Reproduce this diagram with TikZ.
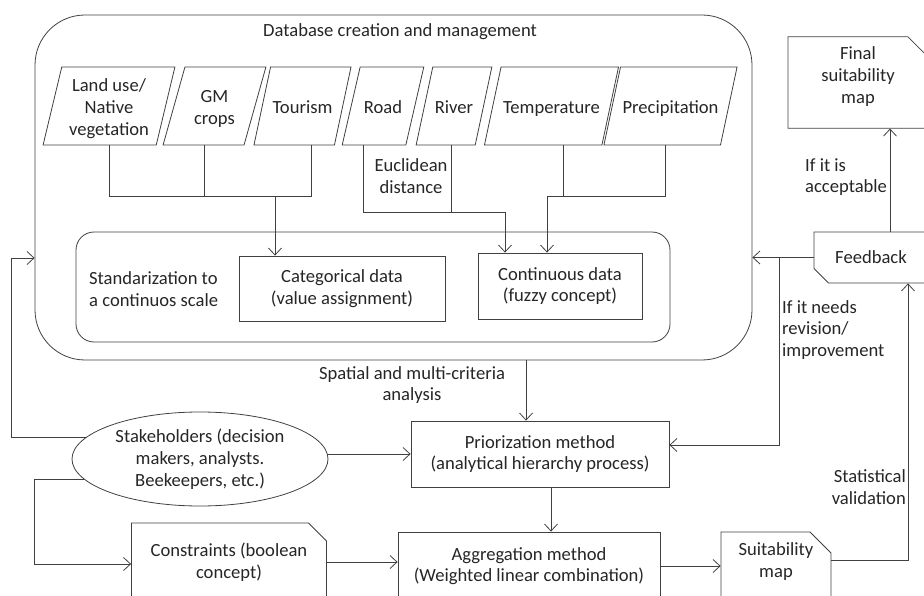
\documentclass[tikz,border=0pt]{standalone}
\usepackage{fontspec}
\setmainfont{Carlito}
\usetikzlibrary{
  arrows.meta,
  positioning,
  shapes.geometric,
  shapes.misc
}
\newcommand{\dstrut}{\rule[-3.5pt]{0pt}{21.7pt}}

\begin{document}
\begin{tikzpicture}[
        x=1pt, y=-1pt,
        font=\fontsize{18.6}{21.7}\selectfont,
        every node/.style={text=black!85},
        line/.style={draw=black!75, line width=0.8pt},
        arrow/.style={line, -{Straight Barb[length=7pt,width=13pt]}},
        dataset/.style={trapezium, trapezium left angle=78, trapezium right angle=102, trapezium stretches=true, draw=black!75, line width=0.8pt, align=center, inner xsep=2pt},
        oneline/.style={inner ysep=28.15pt},
        twolines/.style={inner ysep=17.3pt},
        threelines/.style={inner ysep=6.45pt},
        process/.style={rectangle, draw=black!75, line width=0.8pt, align=center, inner sep=0pt},
        mapbox/.style={chamfered rectangle, chamfered rectangle corners=north east, draw=black!75, line width=0.8pt, align=center, inner sep=0pt},
        panel/.style={rectangle, draw=black!75, line width=0.8pt, inner sep=0pt},
        note/.style={align=center, inner sep=0pt},
        stakeholder/.style={ellipse, draw=black!75, line width=0.8pt, align=center, inner sep=0pt}
    ]

    \useasboundingbox (0,0) rectangle (924,596);
    \clip (0,0) rectangle (924,596);

    % Database block
    \node[panel, rounded corners=50pt, minimum width=717pt, minimum height=345pt] (db) at (393.5,187.5) {};
    \node[note] (dbtitle) at (400,32) {Database creation and management};

    \node[dataset, threelines, minimum width=132pt] (land) at (109,106) {\dstrut Land use/\\Native\\vegetation\dstrut};
    \node[dataset, twolines, minimum width=103pt] (gm) at (214.5,106) {\dstrut GM\\crops\dstrut};
    \node[dataset, oneline, minimum width=91pt] (tour) at (302.5,106) {\dstrut Tourism};
    \node[dataset, oneline, minimum width=82pt] (road) at (383,106) {\dstrut Road};
    \node[dataset, oneline, minimum width=76pt] (river) at (454,106) {\dstrut River};
    \node[dataset, oneline, minimum width=129pt] (temp) at (551.5,106) {\dstrut Temperature};
    \node[dataset, oneline, minimum width=127pt] (prec) at (670.5,106) {\dstrut Precipitation};

    \node[note] (eucl) at (411,176) {Euclidean\\distance};

    % Standarization
    \node[panel, rounded corners=18pt, minimum width=594pt, minimum height=110pt] (std) at (373,287) {};
    \node[note, anchor=west, align=left] (stdtext) at (89,289) {Standarization to\\a continuos scale};
    \node[process, minimum width=206pt, minimum height=65pt] (cat) at (342,288.5) {Categorical data\\(value assignment)};
    \node[process, minimum width=164pt, minimum height=66pt] (cont) at (560,286) {Continuous data\\(fuzzy concept)};

    % Analysis
    \node[note] (spatial) at (412,385) {Spatial and multi-criteria\\analysis};
    \node[process, minimum width=258pt, minimum height=66pt] (prior) at (540,454) {Priorization method\\(analytical hierarchy process)};
    \node[stakeholder, minimum width=256pt, minimum height=94pt] (stake) at (200,459) {Stakeholders (decision\\makers, analysts.\\Beekeepers, etc.)};
    \node[mapbox, chamfered rectangle xsep=6pt, chamfered rectangle ysep=12pt, minimum width=195pt, minimum height=78pt] (cons) at (229,562) {Constraints (boolean\\concept)};
    \node[process, minimum width=262pt, minimum height=68pt] (aggr) at (529,566) {Aggregation method\\(Weighted linear combination)};
    \node[mapbox, chamfered rectangle xsep=11pt, chamfered rectangle ysep=10pt, minimum width=110pt, minimum height=68pt, text depth=12pt] (smap) at (776,566) {Suitability\\map};

    % Feedback
    \node[mapbox, chamfered rectangle corners=south west, chamfered rectangle xsep=9pt, chamfered rectangle ysep=8pt, minimum width=114pt, minimum height=51pt] (fb) at (871,257.5) {Feedback};
    \node[mapbox, chamfered rectangle xsep=10pt, chamfered rectangle ysep=10pt, minimum width=140pt, minimum height=91pt, text depth=15pt] (final) at (858,82.5) {Final\\suitability\\map};
    \node[note, anchor=west, align=left] (okl) at (805,177) {If it is\\acceptable};
    \node[note, anchor=west, align=left] (revl) at (782,330) {If it needs\\revision/\\improvement};
    \node[note, anchor=east, align=right] (statl) at (906,487) {Statistical\\validation};

    % Junctions
    \coordinate (b1) at (204,196);
    \coordinate (b2) at (311,196);
    \coordinate (b3) at (275,196);
    \coordinate (b0) at (109,196);
    \coordinate (r1) at (363,212);
    \coordinate (r2) at (451,212);
    \coordinate (r3) at (505,212);
    \coordinate (t1) at (563,196);
    \coordinate (t2) at (665,196);
    \coordinate (t3) at (547,196);
    \coordinate (fbL) at (11,258);
    \coordinate (conL) at (34,564);
    \coordinate (sp) at (526,0);
    \coordinate (pa) at (551,0);
    \coordinate (sv) at (908,0);
    \coordinate (rv) at (779,445);
    \coordinate (ok) at (890,0);

    % Connections
    \draw[line] (land.south -| b0) -- (b0) -- (b2) -- (tour.south -| b2);
    \draw[line] (gm.south -| b1) -- (b1);
    \draw[arrow] (b3) -- (cat.north -| b3);

    \draw[line] (road.south -| r1) |- (r3);
    \draw[line] (river.south -| r2) -- (r2);
    \draw[arrow] (r3) -- (cont.north -| r3);

    \draw[line] (temp.south -| t1) -- (t1);
    \draw[line] (prec.south -| t2) -- (t2) -- (t3);
    \draw[arrow] (t3) -- (cont.north -| t3);

    \draw[arrow] (db.south -| sp) -- (prior.north -| sp);
    \draw[arrow] (stake.169) -| (fbL) -- (fbL -| db.west);
    \draw[arrow] (stake.east |- prior.west) -- (prior.west);
    \draw[arrow] (stake.190) -| (conL) -- (conL -| cons.west);
    \draw[arrow] (prior.south -| pa) -- (aggr.north -| pa);
    \draw[arrow] (cons.east) -- (cons.east -| aggr.west);
    \draw[arrow] (aggr.east) -- (aggr.east -| smap.west);

    \draw[arrow] (smap.east |- 0,560) -| (fb.south -| sv);
    \draw[arrow] (fb.west) -- (fb.west -| db.east);
    \draw[arrow] (fb.west -| rv) |- (prior.east |- rv);
    \draw[arrow] (fb.north -| ok) -- (final.south -| ok);

\end{tikzpicture}
\end{document}
